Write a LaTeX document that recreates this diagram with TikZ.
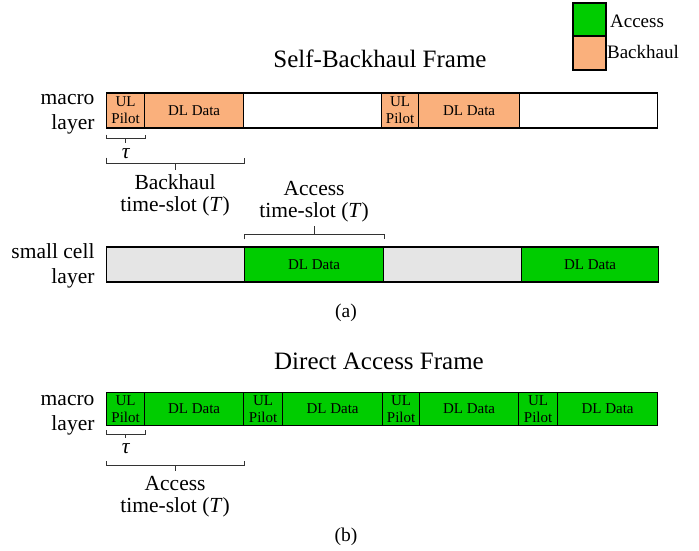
\documentclass[tikz,border=0pt]{standalone}
\usepackage{fontspec}
\setmainfont{Liberation Serif}
\usepackage{tikz}
\usetikzlibrary{positioning,calc}

\definecolor{accgreen}{RGB}{0,204,0}
\definecolor{bhorange}{RGB}{250,176,124}
\definecolor{idlegray}{RGB}{229,229,229}

\begin{document}
\begin{tikzpicture}[x=1pt,y=-1pt]
    \tikzset { slot/.style = { shape=rectangle,draw,line width=1.2pt,anchor=west,inner sep=0pt,align=center,font=\fontsize{15}{17}\selectfont } }
    \tikzset { bar/.style = { slot,minimum height=35pt } }
    \tikzset { lowbar/.style = { slot,minimum height=33pt } }
    \tikzset { layer/.style = { anchor=east,align=right,font=\fontsize{21.5}{25.5}\selectfont } }
    \tikzset { slotname/.style = { align=center,font=\fontsize{21.5}{22}\selectfont } }
    \tikzset { brk/.style = { draw,line width=0.9pt,black!80 } }
    \tikzset { key/.style = { shape=rectangle,draw,line width=1.2pt,minimum width=33pt,inner sep=0pt } }
    \tikzset { keytext/.style = { anchor=west,font=\fontsize{19}{22}\selectfont } }

    \useasboundingbox (0,0) rectangle (699,550);

    \node[key,fill=accgreen,minimum height=33pt] (keyAcc) at (589.5,19.5) {};
    \node[key,fill=bhorange,minimum height=34pt] (keyBh) at (589.5,53) {};
    \node[keytext] (keyAccText) at (606.6,21) {Access};
    \node[keytext] (keyBhText) at (603.6,51.5) {Backhaul};

    \node[font=\fontsize{25}{30}\selectfont] (titleA) at (380,59) {Self-Backhaul Frame};

    \node[layer] (macroA) at (98,114) {macro\\layer};
    \node[bar,fill=bhorange,minimum width=38pt] (pilotA1) at (106,110.5) {UL\\Pilot};
    \node[bar,fill=bhorange,minimum width=99pt] (dataA1) at (144,110.5) {DL Data};
    \node[bar,fill=white,minimum width=138pt] (idleA1) at (243,110.5) {};
    \node[bar,fill=bhorange,minimum width=37pt] (pilotA2) at (381,110.5) {UL\\Pilot};
    \node[bar,fill=bhorange,minimum width=101pt] (dataA2) at (418,110.5) {DL Data};
    \node[bar,fill=white,minimum width=138pt] (idleA2) at (519,110.5) {};

    \draw[brk] ([yshift=-6pt]pilotA1.south west) -- ++(0,4) -| ([yshift=-6pt]pilotA1.south east);
    \draw[brk] ([yshift=-10pt]pilotA1.south) -- ++(0,4) coordinate (tauTipA);
    \node[below=2pt of tauTipA,font=\fontsize{21.5}{22}\selectfont\itshape] (tauA) {τ};

    \draw[brk] ([yshift=-29pt]pilotA1.south west) -- ++(0,6) -| ([yshift=-29pt]dataA1.south east);
    \draw[brk] ($(pilotA1.south west)!0.5!(dataA1.south east)$) ++(0,35) -- ++(0,6) coordinate (bhTip);
    \node[slotname,below=1pt of bhTip] (bhSlot) {Backhaul\\time-slot (\textit{T})};

    \node[layer] (smallC) at (98,266) {small cell\\layer};
    \node[bar,fill=idlegray,minimum width=138pt] (idleC1) at (106,264.5) {};
    \node[bar,fill=accgreen,minimum width=139pt] (accC1) at (244,264.5) {DL Data};
    \node[bar,fill=idlegray,minimum width=138pt] (idleC2) at (383,264.5) {};
    \node[bar,fill=accgreen,minimum width=137pt] (accC2) at (521,264.5) {DL Data};

    \draw[brk] ([yshift=7pt]accC1.north west) -- ++(0,-5) -| ([yshift=7pt]accC1.north east);
    \draw[brk] ([yshift=12pt]accC1.north) -- ++(0,-8) coordinate (accTipA);
    \node[slotname,above=1pt of accTipA] (accSlotA) {Access\\time-slot (\textit{T})};

    \node[font=\fontsize{19.5}{22}\selectfont] (capA) at (346,313) {(a)};

    \node[font=\fontsize{25}{30}\selectfont] (titleB) at (379,361.5) {Direct Access Frame};

    \node[layer] (macroB) at (98,415) {macro\\layer};
    \node[lowbar,fill=accgreen,minimum width=38pt] (pilotB1) at (106,409) {UL\\Pilot};
    \node[lowbar,fill=accgreen,minimum width=99pt] (dataB1) at (144,409) {DL Data};
    \node[lowbar,fill=accgreen,minimum width=39pt] (pilotB2) at (243,409) {UL\\Pilot};
    \node[lowbar,fill=accgreen,minimum width=100pt] (dataB2) at (282,409) {DL Data};
    \node[lowbar,fill=accgreen,minimum width=37pt] (pilotB3) at (382,409) {UL\\Pilot};
    \node[lowbar,fill=accgreen,minimum width=99pt] (dataB3) at (419,409) {DL Data};
    \node[lowbar,fill=accgreen,minimum width=39pt] (pilotB4) at (518,409) {UL\\Pilot};
    \node[lowbar,fill=accgreen,minimum width=100pt] (dataB4) at (557,409) {DL Data};

    \draw[brk] ([yshift=-4pt]pilotB1.south west) -- ++(0,4) -| ([yshift=-4pt]pilotB1.south east);
    \draw[brk] ([yshift=-8pt]pilotB1.south) -- ++(0,4) coordinate (tauTipB);
    \node[below=2pt of tauTipB,font=\fontsize{21.5}{22}\selectfont\itshape] (tauB) {τ};

    \draw[brk] ([yshift=-35pt]pilotB1.south west) -- ++(0,4) -| ([yshift=-35pt]dataB1.south east);
    \draw[brk] ($(pilotB1.south west)!0.5!(dataB1.south east)$) ++(0,39) -- ++(0,6) coordinate (accTipB);
    \node[slotname,below=2pt of accTipB] (accSlotB) {Access\\time-slot (\textit{T})};

    \node[font=\fontsize{19.5}{22}\selectfont] (capB) at (346,537) {(b)};

  \end{tikzpicture}
\end{document}
